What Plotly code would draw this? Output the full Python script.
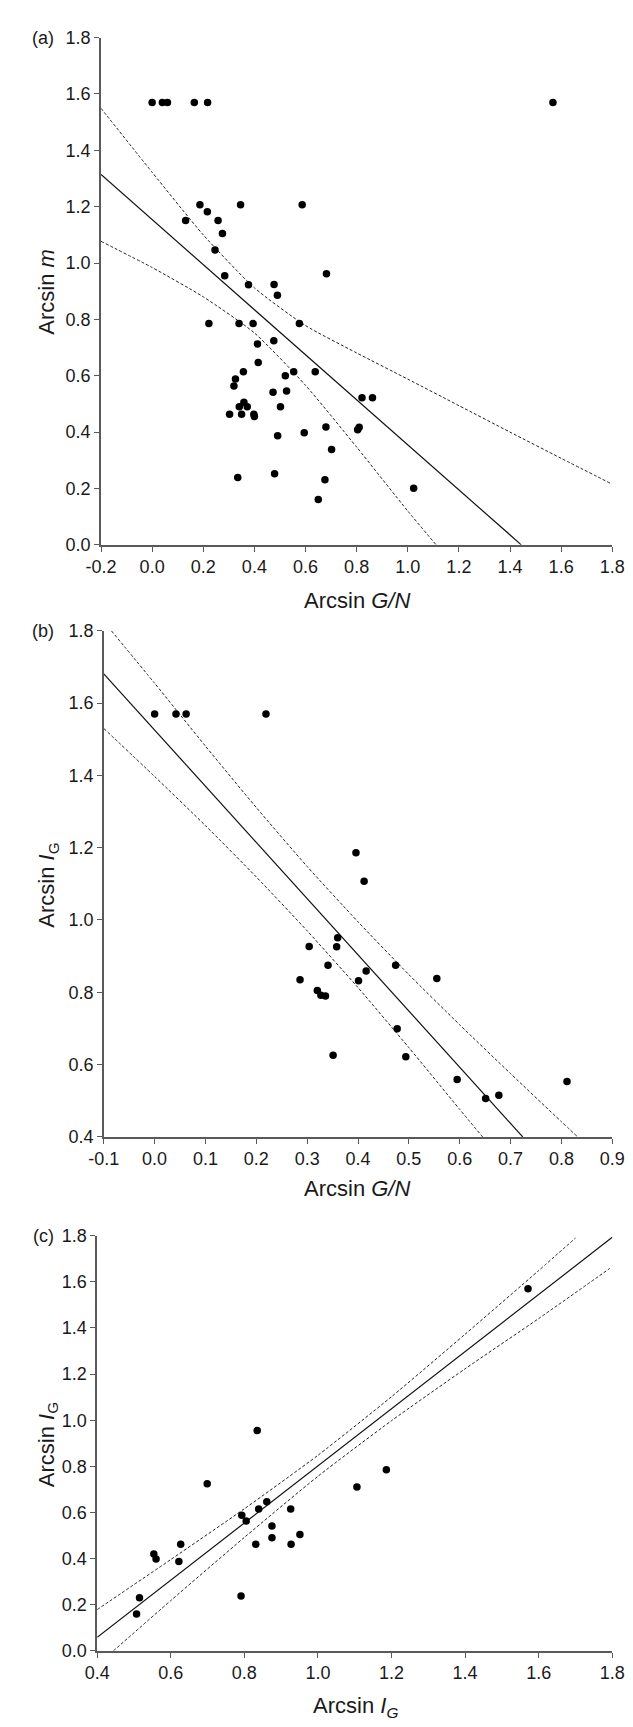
import plotly.graph_objects as go

# ---------------- Panel (a) data ----------------
a_x = [0.00, 0.04, 0.06, 0.165, 0.217, 1.568, 0.187, 0.346, 0.587, 0.131, 0.216, 0.258,
       0.275, 0.246, 0.284, 0.682, 0.377, 0.477, 0.490, 0.222, 0.340, 0.395, 0.576, 0.476,
       0.412, 0.415, 0.357, 0.554, 0.638, 0.326, 0.320, 0.521, 0.526, 0.473, 0.821, 0.862,
       0.341, 0.359, 0.372, 0.502, 0.303, 0.350, 0.398, 0.400, 0.595, 0.680, 0.804, 0.810,
       0.491, 0.702, 0.335, 0.479, 0.676, 0.650, 1.023]
a_y = [1.57, 1.57, 1.57, 1.57, 1.57, 1.57, 1.207, 1.207, 1.207, 1.151, 1.182, 1.151,
       1.105, 1.046, 0.955, 0.962, 0.923, 0.924, 0.886, 0.785, 0.785, 0.785, 0.785, 0.724,
       0.713, 0.647, 0.614, 0.614, 0.614, 0.588, 0.564, 0.600, 0.546, 0.541, 0.522, 0.522,
       0.490, 0.506, 0.490, 0.490, 0.463, 0.463, 0.463, 0.455, 0.398, 0.418, 0.408, 0.417,
       0.387, 0.338, 0.239, 0.252, 0.231, 0.161, 0.201]
a_fit_x = [-0.2, 1.444]
a_fit_y = [1.314, 0.0]
a_up_x = [-0.2, 0.0, 0.2, 0.4, 0.6, 0.8, 1.0, 1.2, 1.4, 1.6, 1.8]
a_up_y = [1.549, 1.322, 1.100, 0.912, 0.778, 0.681, 0.588, 0.494, 0.400, 0.307, 0.215]
a_lo_x = [-0.2, 0.0, 0.2, 0.4, 0.6, 0.8, 1.0, 1.111]
a_lo_y = [1.077, 0.984, 0.880, 0.752, 0.566, 0.347, 0.120, 0.0]
a_xticks = [-0.2, 0.0, 0.2, 0.4, 0.6, 0.8, 1.0, 1.2, 1.4, 1.6, 1.8]
a_xlabels = ["-0.2", "0.0", "0.2", "0.4", "0.6", "0.8", "1.0", "1.2", "1.4", "1.6", "1.8"]
a_yticks = [0.0, 0.2, 0.4, 0.6, 0.8, 1.0, 1.2, 1.4, 1.6, 1.8]

# ---------------- Panel (b) data ----------------
b_x = [0.000, 0.042, 0.062, 0.219, 0.396, 0.412, 0.360, 0.358, 0.304, 0.341, 0.474, 0.416,
       0.401, 0.286, 0.555, 0.320, 0.327, 0.336, 0.477, 0.494, 0.351, 0.595, 0.811, 0.651, 0.677]
b_y = [1.570, 1.570, 1.570, 1.570, 1.186, 1.107, 0.951, 0.926, 0.927, 0.875, 0.875, 0.859,
       0.832, 0.835, 0.838, 0.805, 0.792, 0.790, 0.699, 0.622, 0.626, 0.559, 0.553, 0.506, 0.515]
b_fit_x = [-0.1, 0.724]
b_fit_y = [1.681, 0.4]
b_up_x = [-0.085, 0.0, 0.1, 0.2, 0.3, 0.4, 0.5, 0.6, 0.7, 0.8, 0.832]
b_up_y = [1.800, 1.655, 1.481, 1.311, 1.148, 0.995, 0.849, 0.710, 0.575, 0.442, 0.400]
b_lo_x = [-0.1, 0.0, 0.1, 0.2, 0.3, 0.4, 0.5, 0.6, 0.645]
b_lo_y = [1.530, 1.397, 1.261, 1.119, 0.970, 0.813, 0.647, 0.476, 0.400]
b_xticks = [-0.1, 0.0, 0.1, 0.2, 0.3, 0.4, 0.5, 0.6, 0.7, 0.8, 0.9]
b_xlabels = ["-0.1", "0.0", "0.1", "0.2", "0.3", "0.4", "0.5", "0.6", "0.7", "0.8", "0.9"]
b_yticks = [0.4, 0.6, 0.8, 1.0, 1.2, 1.4, 1.6, 1.8]

# ---------------- Panel (c) data ----------------
c_x = [1.571, 0.835, 0.699, 1.186, 1.106, 0.861, 0.839, 0.926, 0.793, 0.805, 0.875,
       0.875, 0.951, 0.831, 0.927, 0.627, 0.554, 0.560, 0.622, 0.515, 0.507, 0.791]
c_y = [1.570, 0.955, 0.725, 0.785, 0.711, 0.647, 0.615, 0.615, 0.588, 0.563, 0.541,
       0.490, 0.505, 0.462, 0.462, 0.462, 0.420, 0.398, 0.387, 0.230, 0.160, 0.238]
c_fit_x = [0.4, 1.8]
c_fit_y = [0.059, 1.793]
c_up_x = [0.4, 0.6, 0.8, 1.0, 1.2, 1.4, 1.6, 1.70]
c_up_y = [0.179, 0.396, 0.616, 0.848, 1.102, 1.373, 1.649, 1.790]
c_lo_x = [0.444, 0.6, 0.8, 1.0, 1.2, 1.4, 1.6, 1.793]
c_lo_y = [0.0, 0.218, 0.492, 0.757, 0.998, 1.223, 1.441, 1.658]
c_xticks = [0.4, 0.6, 0.8, 1.0, 1.2, 1.4, 1.6, 1.8]
c_yticks = [0.0, 0.2, 0.4, 0.6, 0.8, 1.0, 1.2, 1.4, 1.6, 1.8]

W, H = 633, 1727
FONT = "Arial, Liberation Sans, Helvetica, sans-serif"
TXT = "#1a1a1a"
AXC = "#5a5a5a"

fig = go.Figure()

panels = [
    ("x", "y", a_x, a_y, a_fit_x, a_fit_y, a_up_x, a_up_y, a_lo_x, a_lo_y),
    ("x2", "y2", b_x, b_y, b_fit_x, b_fit_y, b_up_x, b_up_y, b_lo_x, b_lo_y),
    ("x3", "y3", c_x, c_y, c_fit_x, c_fit_y, c_up_x, c_up_y, c_lo_x, c_lo_y),
]
for xa, ya, px, py, fx, fy, ux, uy, lx, ly in panels:
    for bx, by in ((ux, uy), (lx, ly)):
        fig.add_trace(go.Scatter(x=bx, y=by, mode="lines", xaxis=xa, yaxis=ya,
                                 line=dict(color="#222", width=1, dash="3px,2px",
                                           shape="spline", smoothing=0.6),
                                 showlegend=False, hoverinfo="skip"))
    fig.add_trace(go.Scatter(x=fx, y=fy, mode="lines", xaxis=xa, yaxis=ya,
                             line=dict(color="#111", width=1.2),
                             showlegend=False, hoverinfo="skip"))
    fig.add_trace(go.Scatter(x=px, y=py, mode="markers", xaxis=xa, yaxis=ya,
                             marker=dict(color="black", size=7.5),
                             showlegend=False))

def px2fx(p):
    return p / W

def px2fy(p):
    return 1 - p / H

axis_common = dict(showline=True, linecolor=AXC, linewidth=1.5, ticks="outside",
                   ticklen=5, tickwidth=1.2, tickcolor=AXC, showgrid=False, zeroline=False,
                   tickfont=dict(family=FONT, size=18, color=TXT), mirror=False)

geo = {
    "a": dict(x0=80.7, x1=616.5, ytop=19.8, ybot=533.0),
    "b": dict(x0=83.6, x1=616.5, ytop=620.0, ybot=1132.0),
    "c": dict(x0=76.7, x1=616.5, ytop=1232.0, ybot=1652.0),
}

fig.update_layout(
    width=W, height=H, margin=dict(l=0, r=0, t=0, b=0, pad=0),
    paper_bgcolor="white", plot_bgcolor="white",
    font=dict(family=FONT, color=TXT),
    showlegend=False,
    xaxis=dict(domain=[px2fx(geo["a"]["x0"]), px2fx(geo["a"]["x1"])], anchor="y",
               range=[-0.2, 1.8], tickvals=a_xticks, ticktext=a_xlabels, **axis_common),
    yaxis=dict(domain=[px2fy(geo["a"]["ybot"]), px2fy(geo["a"]["ytop"])], anchor="x",
               range=[0, 1.8], tickvals=a_yticks, tickformat=".1f", **axis_common),
    xaxis2=dict(domain=[px2fx(geo["b"]["x0"]), px2fx(geo["b"]["x1"])], anchor="y2",
                range=[-0.1, 0.9], tickvals=b_xticks, ticktext=b_xlabels, **axis_common),
    yaxis2=dict(domain=[px2fy(geo["b"]["ybot"]), px2fy(geo["b"]["ytop"])], anchor="x2",
                range=[0.4, 1.8], tickvals=b_yticks, tickformat=".1f", **axis_common),
    xaxis3=dict(domain=[px2fx(geo["c"]["x0"]), px2fx(geo["c"]["x1"])], anchor="y3",
                range=[0.4, 1.8], tickvals=c_xticks, tickformat=".1f", **axis_common),
    yaxis3=dict(domain=[px2fy(geo["c"]["ybot"]), px2fy(geo["c"]["ytop"])], anchor="x3",
                range=[0, 1.8], tickvals=c_yticks, tickformat=".1f", **axis_common),
)

def ann(text, x, y, size=22, angle=0):
    fig.add_annotation(text=text, x=px2fx(x), y=px2fy(y), xref="paper", yref="paper",
                       showarrow=False, textangle=angle, xanchor="center", yanchor="middle",
                       font=dict(family=FONT, size=size, color=TXT))

# axis titles
ann("Arcsin <i>G/N</i>", 349, 589)
ann("Arcsin <i>m</i>", 24, 277, angle=-90)
ann("Arcsin <i>G/N</i>", 349, 1184)
ann("Arcsin <i>I</i><sub>G</sub>", 25, 877, angle=-90)
ann("Arcsin <i>I<sub>G</sub></i>", 347, 1709)
ann("Arcsin <i>I</i><sub>G</sub>", 25, 1443, angle=-90)

# panel labels
ann("(a)", 20, geo["a"]["ytop"], size=18)
ann("(b)", 20, geo["b"]["ytop"], size=18)
ann("(c)", 20, geo["c"]["ytop"], size=18)

fig.write_html("out.html")
